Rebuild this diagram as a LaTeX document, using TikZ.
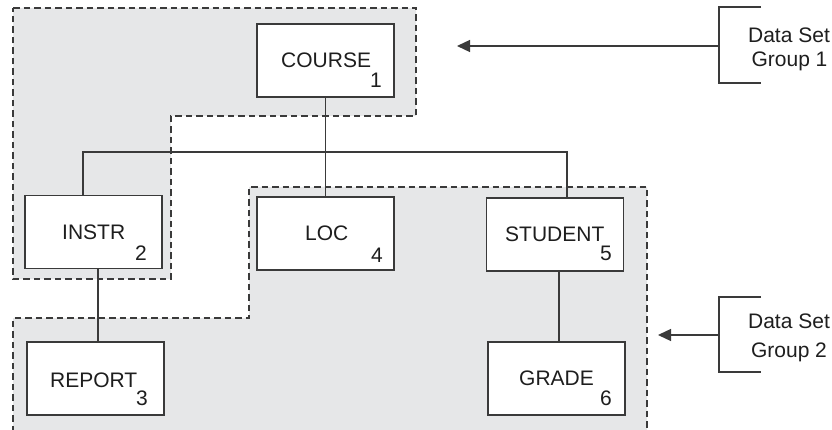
\documentclass[tikz,border=0pt]{standalone}
\usepackage{fontspec}
\setmainfont{Liberation Sans}
\usetikzlibrary{arrows.meta}
\definecolor{grp}{HTML}{E6E7E8}
\definecolor{ln}{HTML}{3A3A3A}
\definecolor{tx}{HTML}{1E1E1E}
\tikzset{
  seg/.style={draw=ln, line width=1.5pt, fill=white, minimum width=137pt, minimum height=73pt, inner sep=0pt},
  conn/.style={draw=ln, line width=1.3pt},
  grpfill/.style={fill=grp, draw=none},
  grpline/.style={draw=ln, line width=1.3pt, dash pattern=on 6.5pt off 4pt},
  lbl/.style={inner sep=0pt, text=tx, font=\fontsize{21}{25}\selectfont},
  arr/.style={draw=ln, line width=1.3pt, -{Triangle[length=13pt,width=12pt]}},
  brk/.style={draw=ln, line width=1.3pt},
}
\begin{document}
\begin{tikzpicture}[x=1pt,y=-1pt]
\useasboundingbox (0,0) rectangle (832,430);
% group regions
\fill[grpfill] (13,8) -- (416,8) -- (416,116) -- (171,116) -- (171,279) -- (13,279) -- cycle;
\draw[grpline] (13,8) -- (416,8) -- (416,116) -- (171,116) -- (171,279) -- (13,279) -- cycle;
\fill[grpfill] (13,432) -- (13,318) -- (249,318) -- (249,187) -- (647,187) -- (647,432) -- cycle;
\draw[grpline] (13,432) -- (13,318) -- (249,318) -- (249,187) -- (647,187) -- (647,432);
% segments
\node[seg] (course) at (325.5,60.5) {};
\node[seg] (instr) at (93.5,232) {};
\node[seg] (loc) at (325.5,233.5) {};
\node[seg] (student) at (555,234.5) {};
\node[seg] (report) at (95.5,378.5) {};
\node[seg] (grade) at (556.5,378.5) {};
% labels
\node[lbl, anchor=base west] (courset) at (281,68) {COURSE};
\node[lbl, anchor=base east] (coursen) at (382,88) {1};
\node[lbl, anchor=base west] (instrt) at (62,240) {INSTR};
\node[lbl, anchor=base east] (instrn) at (147,261) {2};
\node[lbl, anchor=base west] (loct) at (305,241) {LOC};
\node[lbl, anchor=base east] (locn) at (383,262) {4};
\node[lbl, anchor=base west] (reportt) at (50,387) {REPORT};
\node[lbl, anchor=base east] (reportn) at (148,405) {3};
\node[lbl, anchor=base west] (studentt) at (505,242) {STUDENT};
\node[lbl, anchor=base east] (studentn) at (612,261) {5};
\node[lbl, anchor=base west] (gradet) at (519,385) {GRADE};
\node[lbl, anchor=base east] (graden) at (612,405) {6};
% connectors
\coordinate (busl) at (83,152);
\coordinate (busr) at (567,152);
\coordinate (ir) at (98,0);
\coordinate (sg) at (559,0);
\draw[conn] (course.south) -- (loc.north);
\draw[conn] (instr.north -| busl) -- (busl) -- (busr) -- (student.north -| busr);
\draw[conn] (instr.south -| ir) -- (report.north -| ir);
\draw[conn] (student.south -| sg) -- (grade.north -| sg);
% data set group 1
\coordinate (b1t) at (761,7);
\coordinate (b1b) at (761,83);
\coordinate (b1m) at (719,46);
\coordinate (a1) at (457,46);
\draw[brk] (b1t) -- (719,7) -- (719,83) -- (b1b);
\draw[arr] (b1m) -- (a1);
\node[lbl, anchor=base] (dsg1a) at (789,43) {Data Set};
\node[lbl, anchor=base] (dsg1b) at (789.5,67) {Group 1};
% data set group 2
\coordinate (b2t) at (761,297);
\coordinate (b2b) at (761,372);
\coordinate (b2m) at (719,335);
\coordinate (a2) at (658,335);
\draw[brk] (b2t) -- (719,297) -- (719,372) -- (b2b);
\draw[arr] (b2m) -- (a2);
\node[lbl, anchor=base] (dsg2a) at (789,328) {Data Set};
\node[lbl, anchor=base] (dsg2b) at (789,357) {Group 2};
\end{tikzpicture}
\end{document}
